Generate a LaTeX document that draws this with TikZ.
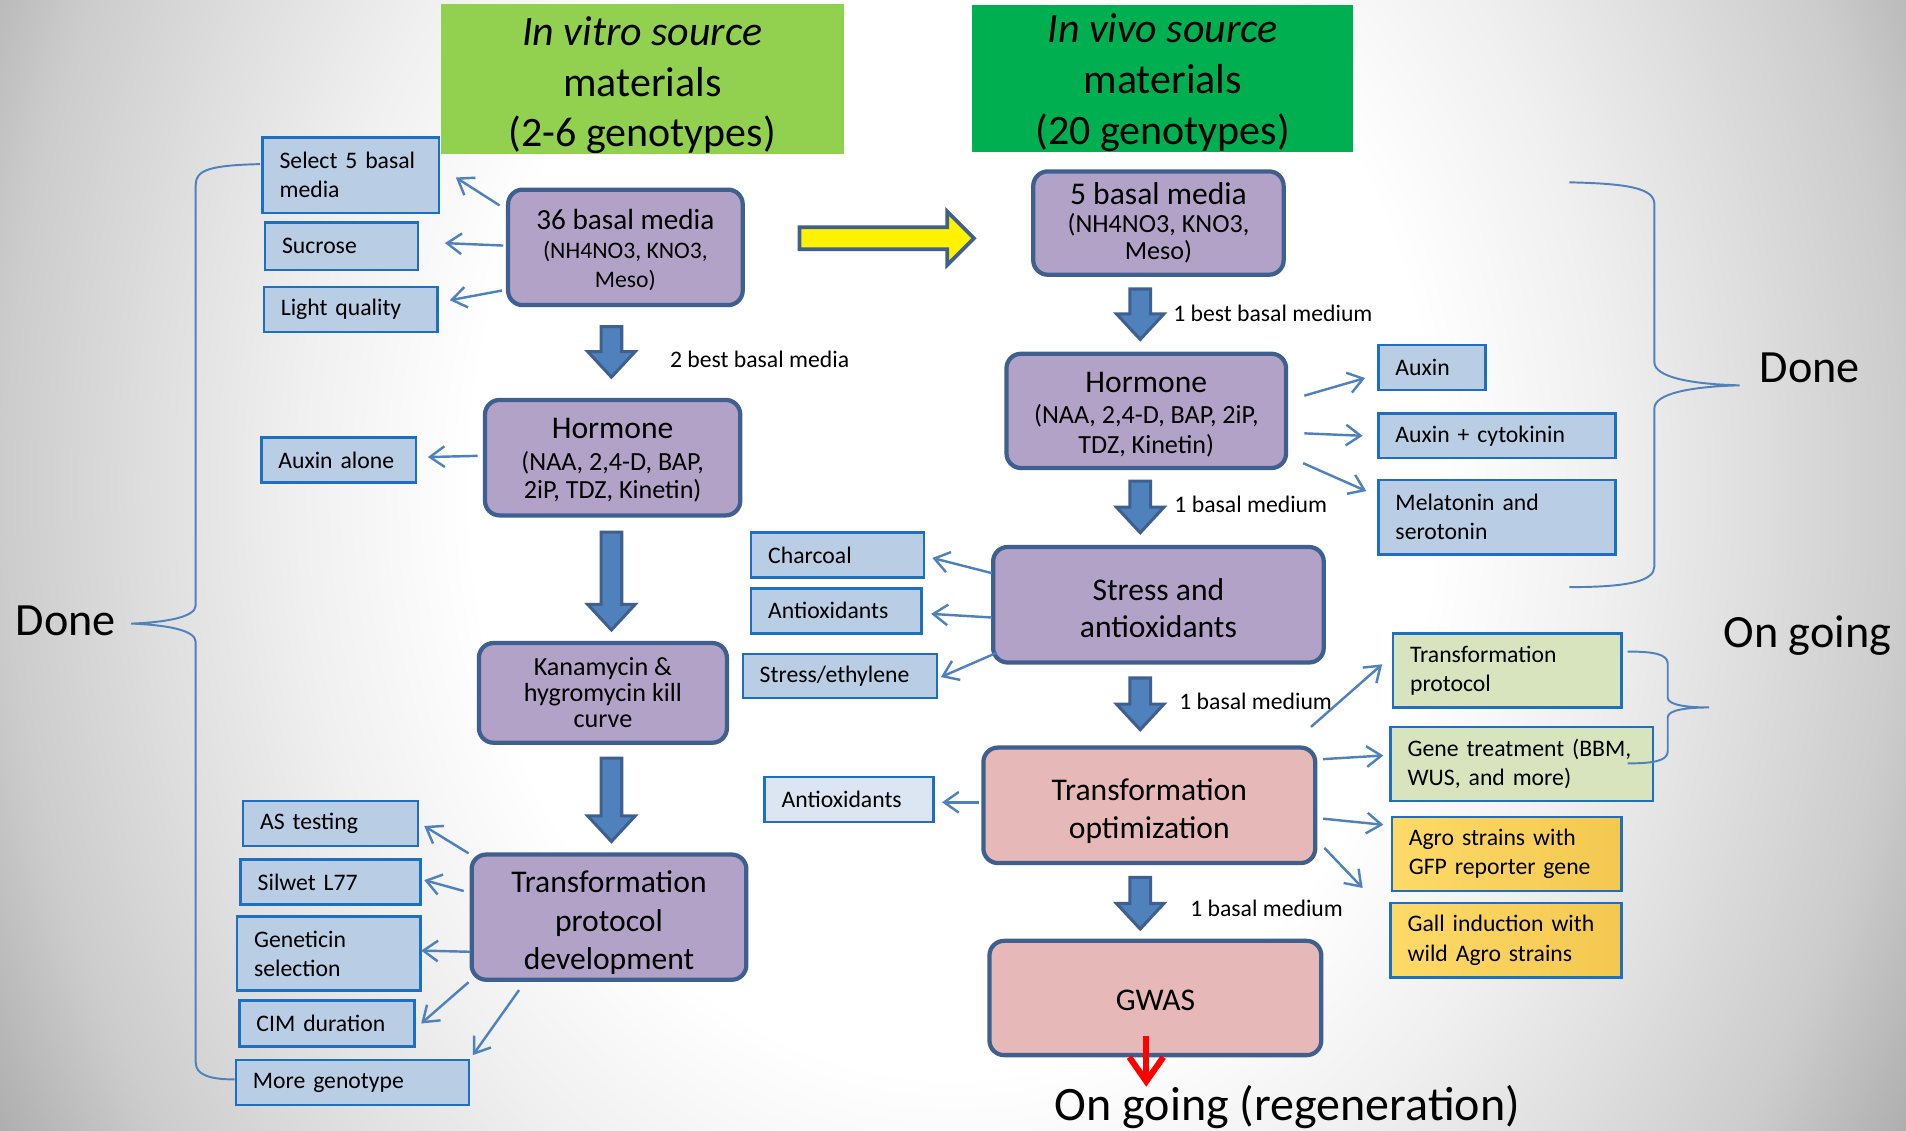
\documentclass[tikz,border=0pt]{standalone}
\usepackage{fontspec}
\setmainfont{Carlito}
\usetikzlibrary{arrows.meta,calc}
\definecolor{stagefill}{HTML}{B3A2C7}
\definecolor{pinkfill}{HTML}{E6B9B8}
\definecolor{stageedge}{HTML}{3F5F8F}
\definecolor{optfill}{HTML}{B9CDE5}
\definecolor{optpale}{HTML}{DCE6F2}
\definecolor{optedge}{HTML}{1F6FC0}
\definecolor{ongreen}{HTML}{D7E4BD}
\definecolor{goldleft}{HTML}{FDDA68}
\definecolor{goldright}{HTML}{F3C850}
\definecolor{flowblue}{HTML}{4F81BD}
\definecolor{vitrogreen}{HTML}{92D050}
\definecolor{vivogreen}{HTML}{00B050}
\pgfdeclareradialshading{bgglow}{\pgfpoint{0bp}{0bp}}{color(0bp)=(white); color(11bp)=(white); color(15bp)=(black!6); color(18bp)=(black!12); color(21.75bp)=(black!20); color(25bp)=(black!32); color(50bp)=(black!38)}
\newcommand{\sz}[2]{\fontsize{#1}{#2}\selectfont}
\begin{document}
\begin{tikzpicture}[x=1pt,y=-1pt,
  stage/.style={draw=stageedge,line width=3.5pt,rounded corners=12pt,fill=stagefill,align=center,inner sep=0pt},
  opt/.style={draw=optedge,line width=2pt,fill=optfill,align=left,inner xsep=14pt,inner ysep=0pt,text width=#1,font=\sz{19.5}{24}},
  pointer/.style={draw=flowblue,line width=2pt,-{Straight Barb[length=12pt,width=17pt]}},
  fatdown/.style={draw=stageedge,fill=flowblue,line width=2.5pt,to path={let \p1=(\tikztostart),\p2=(\tikztotarget) in
    (\x1-8.5pt,\y1) -- (\x1+8.5pt,\y1) -- (\x1+8.5pt,\y2+21pt) -- (\x1+19.5pt,\y2+21pt) -- (\x1,\y2)
    -- (\x1-19.5pt,\y2+21pt) -- (\x1-8.5pt,\y2+21pt) -- cycle}},
  fatright/.style={draw=stageedge,fill=yellow,line width=3pt,to path={let \p1=(\tikztostart),\p2=(\tikztotarget) in
    (\x1,\y1-9pt) -- (\x2-22pt,\y1-9pt) -- (\x2-22pt,\y1-22pt) -- (\x2,\y1)
    -- (\x2-22pt,\y1+22pt) -- (\x2-22pt,\y1+9pt) -- (\x1,\y1+9pt) -- cycle}},
  brace/.style={draw=flowblue,line width=1.6pt},
  note/.style={font=\sz{19.5}{24},anchor=west,inner sep=0pt},
  big/.style={font=\sz{38}{44},inner sep=0pt}]
\useasboundingbox (0,0) rectangle (1568,930);
\begin{scope}
\clip (0,0) rectangle (1568,930);
\shade[shading=bgglow] (-116,-700) rectangle (1684,1500);
\end{scope}
% source headers
\node[fill=vitrogreen,minimum width=331pt,minimum height=122pt,align=center,inner sep=0pt,font=\sz{34.5}{41.5}] (vitro) at (528.5,65)
  {\rule{0pt}{34pt}\textit{In vitro source}\\materials\\(2-6 genotypes)};
\node[fill=vivogreen,minimum width=313pt,minimum height=121pt,align=center,inner sep=0pt,font=\sz{34.5}{42}] (vivo) at (956.5,64.5)
  {\rule{0pt}{31pt}\textit{In vivo source}\\materials\\(20 genotypes)};
% in vitro stages
\node[stage,minimum width=193pt,minimum height=95pt,font=\sz{19.5}{23.5}] (b36) at (514.5,203.5)
  {{\sz{24}{28}\rule{0pt}{21pt}36 basal media}\\(NH4NO3, KNO3,\\Meso)};
\node[stage,minimum width=210pt,minimum height=95pt,font=\sz{21.5}{23}] (hormL) at (504,376.5)
  {{\sz{26}{30}\rule{0pt}{21pt}Hormone}\\[3pt](NAA, 2,4-D, BAP,\\2iP, TDZ, Kinetin)};
\node[stage,minimum width=204pt,minimum height=82pt,font=\sz{21.5}{21.5}] (kana) at (496,570)
  {Kanamycin \&\\hygromycin kill\\curve};
\node[stage,minimum width=226pt,minimum height=103pt,font=\sz{26}{32}] (tpd) at (501,754.5)
  {\rule{0pt}{27pt}Transformation\\protocol\\development};
% in vivo stages
\node[stage,minimum width=206pt,minimum height=85pt,font=\sz{21.5}{22.5}] (b5) at (953,183.5)
  {{\sz{26}{30}5 basal media}\\(NH4NO3, KNO3,\\Meso)};
\node[stage,minimum width=230pt,minimum height=94pt,font=\sz{21.5}{24}] (hormR) at (943,338)
  {{\sz{26}{30}\rule{0pt}{22.5pt}Hormone}\\[2pt](NAA, 2,4-D, BAP, 2iP,\\TDZ, Kinetin)};
\node[stage,minimum width=272pt,minimum height=95pt,font=\sz{26}{31}] (stress) at (953,497.5)
  {\rule{0pt}{23.5pt}Stress and\\antioxidants};
\node[stage,fill=pinkfill,minimum width=273pt,minimum height=95pt,font=\sz{26}{31}] (topt) at (945.5,662.5)
  {\rule{0pt}{27pt}Transformation\\optimization};
\node[stage,fill=pinkfill,minimum width=273pt,minimum height=94pt,font=\sz{26}{31}] (gwas) at (950.5,821) {\rule{0pt}{20.5pt}GWAS};
% options tested
\node[opt=117pt,minimum height=62pt] (selbox) at (288.5,144) {Select 5 basal\\media};
\node[opt=98pt,minimum height=39pt] (sucbox) at (281,202.5) {Sucrose};
\node[opt=115pt,minimum height=37pt] (lightbox) at (288.5,254.5) {Light quality};
\node[opt=99pt,minimum height=37pt] (auxalone) at (278.5,378.5) {Auxin alone};
\node[opt=116pt,minimum height=37pt] (asbox) at (272,677.5) {AS testing};
\node[opt=120pt,minimum height=37pt] (silbox) at (272,725.5) {Silwet L77};
\node[opt=123pt,minimum height=61pt] (genbox) at (270.5,784.5) {Geneticin\\selection};
\node[opt=116pt,minimum height=38pt] (cimbox) at (269,842) {CIM duration};
\node[opt=164pt,minimum height=37pt] (morebox) at (290,890.5) {More genotype};
\node[opt=114pt,minimum height=37pt] (charbox) at (689,456.5) {Charcoal};
\node[opt=112pt,minimum height=37pt] (antibox) at (688,502.5) {Antioxidants};
\node[opt=132pt,minimum height=36pt] (strbox) at (691,556) {Stress/ethylene};
\node[opt=111pt,minimum height=37pt,fill=optpale] (anti2box) at (698.5,657.5) {Antioxidants};
\node[opt=60pt,minimum height=37pt] (auxbox) at (1178,302.5) {Auxin};
\node[opt=167pt,minimum height=37pt] (auxcytbox) at (1231.5,358.5) {Auxin + cytokinin};
\node[opt=167pt,minimum height=61pt] (melbox) at (1231.5,425.5) {Melatonin and\\serotonin};
\node[opt=160pt,minimum height=61pt,fill=ongreen] (tpbox) at (1240,551.5) {Transformation\\protocol};
\node[opt=188pt,minimum height=61pt,fill=ongreen] (genebox) at (1252,628.5) {Gene treatment (BBM,\\WUS, and more)};
\node[opt=161pt,minimum height=61pt,left color=goldleft,right color=goldright] (agrobox) at (1239.5,702.5) {Agro strains with\\GFP reporter gene};
\node[opt=162pt,minimum height=61pt,left color=goldleft,right color=goldright] (gallbox) at (1239,773.5) {Gall induction with\\wild Agro strains};
% main flow
\draw[fatdown] ([shift={(-11.5,16)}]b36.south) to ([shift={(-1,-17)}]hormL.north);
\draw[fatdown] ([shift={(-1,12)}]hormL.south) to ([shift={(7,-9)}]kana.north);
\draw[fatdown] ([shift={(7,11)}]kana.south) to ([shift={(2,-9)}]tpd.north);
\draw[fatdown] ([shift={(-15,10)}]b5.south) to ([shift={(-5,-10)}]hormR.north);
\draw[fatdown] ([shift={(-5,9)}]hormR.south) to ([shift={(-15,-10)}]stress.north);
\draw[fatdown] ([shift={(-15,11)}]stress.south) to ([shift={(-7.5,-13)}]topt.north);
\draw[fatdown] ([shift={(-7.5,10)}]topt.south) to ([shift={(-12.5,-8)}]gwas.north);
\draw[fatright] ([shift={(45,-7.5)}]b36.east) to ([shift={(-47,12.5)}]b5.west);
\coordinate (regentip) at (943,894);
\draw[red,line width=5pt,-{Straight Barb[length=20pt,width=28pt]}] ([shift={(-7.5,31)}]gwas.center) -- (regentip);
% side arrows
\draw[pointer] ([shift={(-103.5,-34.5)}]b36.center) -- ([shift={(86.5,2)}]selbox.center);
\draw[pointer] ([shift={(-100.5,-1.5)}]b36.center) -- ([shift={(85,-2.5)}]sucbox.center);
\draw[pointer] ([shift={(-101.5,35.5)}]b36.center) -- ([shift={(81.5,-7.5)}]lightbox.center);
\draw[pointer] ([shift={(-111,-1.5)}]hormL.center) -- ([shift={(73.5,-2.5)}]auxalone.center);
\draw[pointer] ([shift={(-115.5,-52.5)}]tpd.center) -- ([shift={(77,2)}]asbox.center);
\draw[pointer] ([shift={(-119.5,-21.5)}]tpd.center) -- ([shift={(77,-1.5)}]silbox.center);
\draw[pointer] ([shift={(-114,28.5)}]tpd.center) -- ([shift={(76,-2.5)}]genbox.center);
\draw[pointer] ([shift={(-115.5,53.5)}]tpd.center) -- ([shift={(77.5,0)}]cimbox.center);
\draw[pointer] ([shift={(-74,60)}]tpd.center) -- ([shift={(99,-22.5)}]morebox.center);
\draw[pointer] ([shift={(-137,-26)}]stress.center) -- ([shift={(78,2.5)}]charbox.center);
\draw[pointer] ([shift={(-137,10.5)}]stress.center) -- ([shift={(78,2.5)}]antibox.center);
\draw[pointer] ([shift={(-133,39.5)}]stress.center) -- ([shift={(83,1)}]strbox.center);
\draw[pointer] ([shift={(-140.5,-2.5)}]topt.center) -- ([shift={(76.5,2.5)}]anti2box.center);
\draw[pointer] ([shift={(130,-12.5)}]hormR.center) -- ([shift={(-55,8.5)}]auxbox.center);
\draw[pointer] ([shift={(130,18.5)}]hormR.center) -- ([shift={(-110.5,0)}]auxcytbox.center);
\draw[pointer] ([shift={(129,43)}]hormR.center) -- ([shift={(-107.5,-21.5)}]melbox.center);
\draw[pointer] ([shift={(133,-64.5)}]topt.center) -- ([shift={(-103,-5)}]tpbox.center);
\draw[pointer] ([shift={(143,-38)}]topt.center) -- ([shift={(-114,-7)}]genebox.center);
\draw[pointer] ([shift={(143,11)}]topt.center) -- ([shift={(-101.5,-24)}]agrobox.center);
\draw[pointer] ([shift={(144,35)}]topt.center) -- ([shift={(-118,-43)}]gallbox.center);
% braces
\draw[brace] (214,135) .. controls (172,136) and (161,140) .. (161,152) -- (161,498)
  .. controls (161,508) and (135,512) .. (108,513) .. controls (135,514) and (161,518) .. (161,528)
  -- (161,874) .. controls (161,884) and (172,888) .. (193,888);
\draw[brace] (1291,150) .. controls (1340,151) and (1361,155) .. (1361,168) -- (1361,298)
  .. controls (1361,310) and (1390,316) .. (1431,317) .. controls (1390,318) and (1361,324) .. (1361,336)
  -- (1361,466) .. controls (1361,478) and (1340,483) .. (1291,483);
\draw[brace] (1339,536) .. controls (1360,536) and (1372,538) .. (1372,546) -- (1372,574)
  .. controls (1372,580) and (1388,582) .. (1406,582) .. controls (1388,582) and (1372,584) .. (1372,590)
  -- (1372,618) .. controls (1372,626) and (1360,628) .. (1339,628);
% labels
\node[note] (lbl2best) at (551,296) {2 best basal media};
\node[note] (lbl1best) at (965,258) {1 best basal medium};
\node[note] (lblmedA) at (966,415) {1 basal medium};
\node[note] (lblmedB) at (970,577) {1 basal medium};
\node[note] (lblmedC) at (979,747) {1 basal medium};
\node[big] (doneleft) at (54,511) {Done};
\node[big] (doneright) at (1489,303) {Done};
\node[big] (ongoing) at (1487,523) {On going};
\node[big,font=\sz{39.5}{44},anchor=base] (regen) at (1059,922) {On going (regeneration)};
\end{tikzpicture}
\end{document}
